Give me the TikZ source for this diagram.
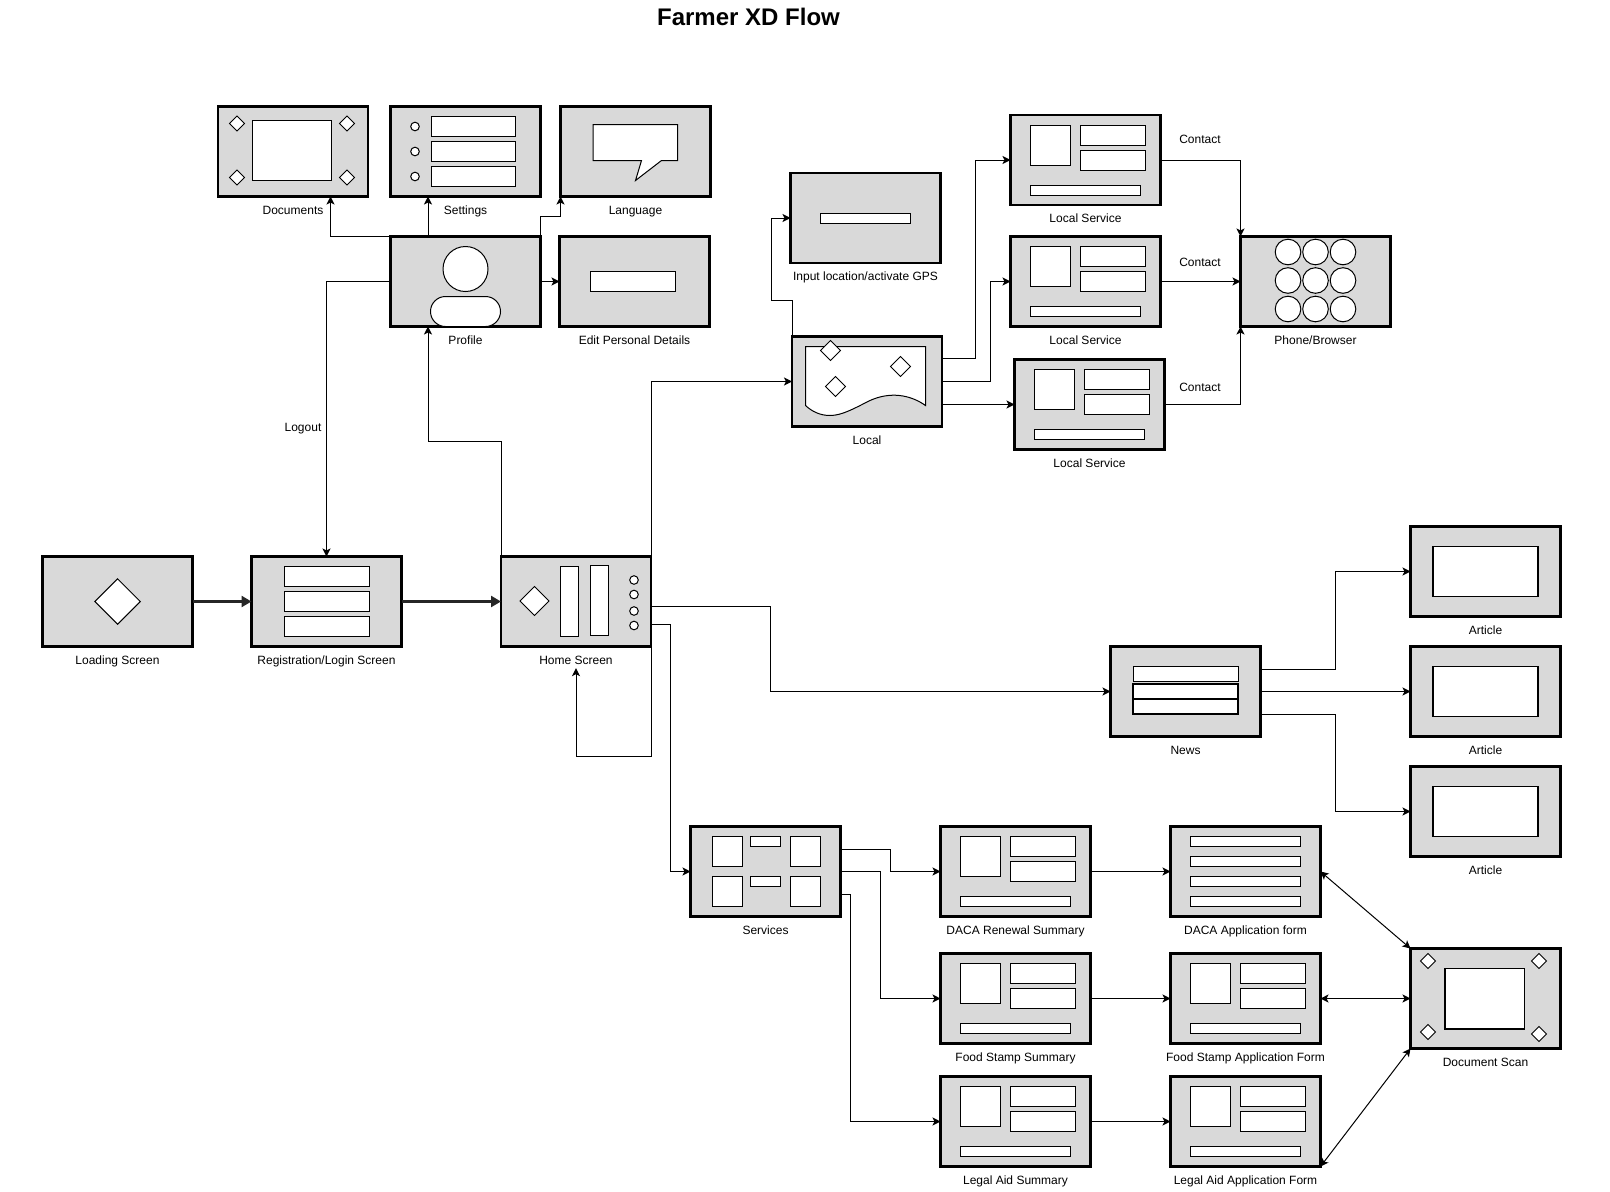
\documentclass[tikz,border=0pt]{standalone}
\usepackage{fontspec}
\setmainfont{Liberation Sans}
\usepackage{tikz}
\usetikzlibrary{arrows.meta,positioning,calc}
\definecolor{scr}{HTML}{D9D9D9}
\tikzset{
  >={Stealth[length=8pt,width=8pt,inset=2pt]},
  screen/.style={draw=black,fill=scr,line width=2.1pt,minimum width=150pt,minimum height=90pt,inner sep=0pt,outer sep=0pt},
  wgt/.style={draw=black,fill=white,line width=1pt},
  lab/.style={font=\fontsize{12}{14}\selectfont,text=black,inner sep=0pt,outer sep=0pt,text height=9pt,text depth=3pt},
  arr/.style={->,draw=black,line width=1pt},
  thk/.style={-{Stealth[length=10pt,width=11pt,inset=0pt]},draw=black!85,line width=2.4pt},
  dbl/.style={<->,draw=black,line width=1pt},
}
\newcommand{\wdia}[3]{\draw[wgt] (#1-#3,#2) -- (#1,#2-#3) -- (#1+#3,#2) -- (#1,#2+#3) -- cycle;}
\begin{document}
\begin{tikzpicture}[x=1pt,y=-1pt]
\useasboundingbox (0,0) rectangle (1610,1192);
\node[font=\fontsize{24}{28}\selectfont\bfseries,inner sep=0pt] (title) at (748.5,16.5) {Farmer XD Flow};
% main row
\node[screen] (load) at (117.5,601.5) {};
\node[screen,right=59pt of load] (reg) {};
\node[screen,right=99.5pt of reg] (home) {};
% profile group
\node[screen] (profile) at (465.5,281.5) {};
\node[screen,above=40pt of profile] (settings) {};
\node[screen,left=22.5pt of settings] (docs) {};
\node[screen,right=20pt of settings] (lang) {};
\node[screen,right=19pt of profile] (edit) {};
% local group
\node[screen] (input) at (865.5,218) {};
\node[screen] (local) at (867,381.5) {};
\node[screen] (sa) at (1085.5,160) {};
\node[screen,below=31.5pt of sa] (sb) {};
\node[screen] (sc) at (1089.5,404.5) {};
\node[screen,right=80pt of sb] (phone) {};
% news group
\node[screen] (news) at (1185.5,691.5) {};
\node[screen,right=150pt of news] (artb) {};
\node[screen,above=30pt of artb] (arta) {};
\node[screen,below=30pt of artb] (artc) {};
% services group
\node[screen] (svc) at (765.5,871.5) {};
\node[screen,right=100pt of svc] (daca) {};
\node[screen,right=80pt of daca] (dacaf) {};
\node[screen,below=37pt of daca] (food) {};
\node[screen,right=80pt of food] (foodf) {};
\node[screen,below=33pt of food] (legal) {};
\node[screen,right=80pt of legal] (legalf) {};
\node[screen,right=90pt of foodf,minimum height=100pt] (scan) {};
% captions
\foreach \n/\t in {load/Loading Screen,reg/Registration\slash Login Screen,home/Home Screen,profile/Profile,settings/Settings,docs/Documents,lang/Language,edit/Edit Personal Details,input/Input location\slash activate GPS,local/Local,sa/Local Service,sb/Local Service,sc/Local Service,phone/Phone\slash Browser,news/News,arta/Article,artb/Article,artc/Article,svc/Services,daca/DACA Renewal Summary,dacaf/DACA Application form,food/Food Stamp Summary,foodf/Food Stamp Application Form,legal/Legal Aid Summary,legalf/Legal Aid Application Form,scan/Document Scan}
  \node[lab,below=8.7pt of \n] (\n cap) {\t};
\node[lab] (logout) at (303,428) {Logout};
\node[lab] (ca) at (1200,140.5) {Contact};
\node[lab] (cb) at (1200,263.5) {Contact};
\node[lab] (cc) at (1200,388.5) {Contact};
% widgets
\wdia{117.6}{601.5}{22.7}
\begin{scope}[shift={(reg.north west)}]
\foreach \y in {10,35,60} \draw[wgt] (32.5,\y) rectangle (117.5,\y+20);
\end{scope}
\begin{scope}[shift={(home.north west)}]
\wdia{33.5}{44.5}{14.5}
\draw[wgt] (59,10) rectangle (77,80);
\draw[wgt] (89,9) rectangle (107,79);
\foreach \y in {23.5,38,54.5,69} \draw[wgt] (133,\y) circle (4.3);
\end{scope}
\begin{scope}[shift={(docs.north west)}]
\draw[wgt] (34.5,14) rectangle (113.5,74);
\foreach \x in {19,129} \foreach \y in {17,71} {\wdia{\x}{\y}{7.5}}
\end{scope}
\begin{scope}[shift={(settings.north west)}]
\foreach \y in {10,35,60} {
  \draw[wgt] (41,\y) rectangle (125,\y+20);
  \draw[wgt] (24.5,\y+10) circle (4.3);
}
\end{scope}
\begin{scope}[shift={(lang.north west)}]
\draw[wgt] (32.5,18) -- (117,18) -- (117,54) -- (101,54) -- (75,74) -- (81,54) -- (32.5,54) -- cycle;
\end{scope}
\begin{scope}[shift={(profile.center)}]
\draw[wgt] (0,-12.5) circle (22.5);
\draw[wgt,rounded corners=15pt] (-35,15) rectangle (35,45);
\end{scope}
\begin{scope}[shift={(edit.north west)}]
\draw[wgt] (31,35) rectangle (115.5,55);
\end{scope}
\begin{scope}[shift={(input.north west)}]
\draw[wgt] (30,40) rectangle (120,50);
\end{scope}
\begin{scope}[shift={(local.north west)}]
\draw[wgt] (13.5,10) -- (133.5,10) -- (133.5,69) .. controls (118,58) and (98,55) .. (78,64) .. controls (62,72) and (50,79) .. (38,79) .. controls (28,79) and (20,75) .. (13.5,69) -- cycle;
\foreach \x/\y in {38.5/14,108.5/30,43.5/50} {\wdia{\x}{\y}{10}}
\end{scope}
\foreach \s in {sa,sb,sc,daca,food,legal,foodf,legalf} {
  \begin{scope}[shift={(\s.north west)}]
  \draw[wgt] (20,10) rectangle (60,50);
  \draw[wgt] (70,10) rectangle (135,30);
  \draw[wgt] (70,35) rectangle (135,55);
  \draw[wgt] (20,70) rectangle (130,80);
  \end{scope}
}
\begin{scope}[shift={(phone.center)}]
\foreach \x in {-27.5,0,27.5} \foreach \y in {-29.5,-1,27.5} \draw[wgt] (\x,\y) circle (12.8);
\end{scope}
\begin{scope}[shift={(news.north west)}]
\draw[wgt] (22.5,20) rectangle (127.5,35);
\draw[wgt,line width=1.5pt] (22.5,37.5) rectangle (127.5,52.5);
\draw[wgt,line width=1.5pt] (22.5,52.5) rectangle (127.5,67.5);
\end{scope}
\foreach \s in {arta,artb,artc} {
  \begin{scope}[shift={(\s.north west)}]
  \draw[wgt,line width=1.3pt] (22.5,20) rectangle (127.5,70);
  \end{scope}
}
\begin{scope}[shift={(svc.north west)}]
\foreach \y in {10,50} {
  \draw[wgt] (22,\y) rectangle (52,\y+30);
  \draw[wgt] (60,\y) rectangle (90,\y+10);
  \draw[wgt] (100,\y) rectangle (130,\y+30);
}
\end{scope}
\begin{scope}[shift={(dacaf.north west)}]
\foreach \y in {10,30,50,70} \draw[wgt] (20,\y) rectangle (130,\y+10);
\end{scope}
\begin{scope}[shift={(scan.north west)}]
\draw[wgt,line width=1.3pt] (34.5,20) rectangle (114,80.5);
\wdia{17.5}{12.5}{7.5}
\wdia{128.5}{12.5}{7.5}
\wdia{17.5}{83.5}{7.5}
\wdia{128.5}{85.5}{7.5}
\end{scope}
% connectors
\draw[thk] (load) -- (reg);
\draw[thk] (reg) -- (home);
\draw[arr] (profile.north west) -| ($(docs.south)!.5!(docs.south east)$);
\draw[arr] ($(profile.north west)!.25!(profile.north east)$) -- ($(settings.south west)!.25!(settings.south east)$);
\draw[arr] (profile.north east) -- ++(0,-20) -| (lang.south west);
\draw[arr] (profile) -- (edit);
\draw[arr] (profile.west) -| (reg.north);
\draw[arr] (home.north west) -- ++(0,-115) -| ($(profile.south west)!.25!(profile.south east)$);
\draw[arr] (home.north east) |- (local.west);
\draw[arr] ($(home.east)+(0,5)$) -- ++(119.5,0) |- (news.west);
\draw[arr] ($(home.east)+(0,22.5)$) -- ++(19,0) |- (svc.west);
\draw[arr] (home.south east) -- ++(0,110) -| ($(homecap.south)+(0,1)$);
\draw[arr] (local.north west) -- ++(0,-36) -- ++(-21,0) |- (input.west);
\draw[arr] ($(local.east)+(0,-23)$) -- ++(33.5,0) |- (sa.west);
\draw[arr] (local.east) -- ++(48,0) |- (sb.west);
\draw[arr] (local.east |- sc.west) -- (sc.west);
\draw[arr] (sa.east) -| (phone.north west);
\draw[arr] (sb) -- (phone);
\draw[arr] (sc.east) -| (phone.south west);
\draw[arr] ($(news.east)+(0,-22.5)$) -- ++(75,0) |- (arta.west);
\draw[arr] (news) -- (artb);
\draw[arr] ($(news.east)+(0,22.5)$) -- ++(75,0) |- (artc.west);
\draw[arr] ($(svc.east)+(0,-22.5)$) -- ++(50,0) |- (daca.west);
\draw[arr] (svc.east) -- ++(40,0) |- (food.west);
\draw[arr] ($(svc.east)+(0,22.5)$) -- ++(10,0) |- (legal.west);
\foreach \u/\v in {daca/dacaf,food/foodf,legal/legalf} \draw[arr] (\u) -- (\v);
\draw[dbl] (dacaf.east) -- (scan.north west);
\draw[dbl] (foodf.east) -- (scan.west);
\draw[dbl] (legalf.south east) -- (scan.south west);
\end{tikzpicture}
\end{document}
